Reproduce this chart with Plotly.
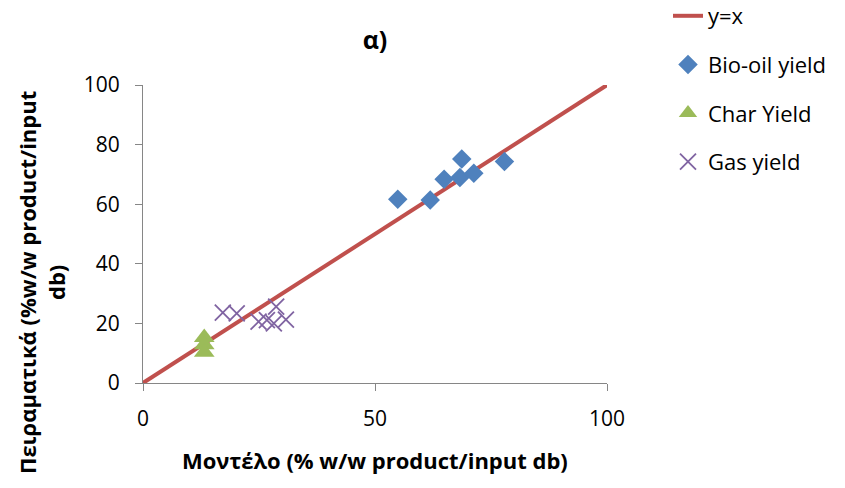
import plotly.graph_objects as go

# Data
line_x = [0, 100]
line_y = [0, 100]

bio_x = [54.9, 61.9, 64.9, 68.7, 68.3, 71.3, 77.9]
bio_y = [61.7, 61.4, 68.4, 75.2, 69.0, 70.4, 74.3]

char_x = [13.2, 13.2, 13.2]
char_y = [15.3, 12.8, 10.3]

gas_x = [17.2, 20.2, 24.9, 26.7, 28.7, 28.2, 30.8]
gas_y = [23.6, 23.4, 20.6, 21.1, 25.6, 20.0, 21.3]

x_ticks = [0, 50, 100]
y_ticks = [0, 20, 40, 60, 80, 100]

FONT = "Open Sans"

fig = go.Figure()
fig.add_trace(go.Scatter(x=line_x, y=line_y, mode="lines", name="y=x",
                         line=dict(color="#C0504D", width=4), legendgroup="a"))
fig.add_trace(go.Scatter(x=bio_x, y=bio_y, mode="markers", name="Bio-oil yield",
                         marker=dict(symbol="diamond", size=15, color="#4F81BD"), legendgroup="b"))
fig.add_trace(go.Scatter(x=char_x, y=char_y, mode="markers", name="Char Yield",
                         marker=dict(symbol="triangle-up", size=18, color="#9BBB59"), legendgroup="c"))
fig.add_trace(go.Scatter(x=gas_x, y=gas_y, mode="markers", name="Gas yield",
                         marker=dict(symbol="x-thin", size=16, color="#8064A2",
                                     line=dict(color="#8064A2", width=1.8)), legendgroup="d"))

fig.update_layout(
    width=845, height=488,
    margin=dict(l=143, r=238, t=85, b=105, autoexpand=False),
    paper_bgcolor="white", plot_bgcolor="white",
    font=dict(family=FONT, size=21, color="black"),
    title=dict(text="<b>α)</b>", x=375 / 845, xanchor="center", y=1 - 40 / 488, yanchor="middle",
               font=dict(family=FONT, size=25, color="black")),
    showlegend=True,
    legend=dict(x=(668 - 143) / 464, xanchor="left", y=(383 + 5) / 298, yanchor="top",
                font=dict(family=FONT, size=22, color="black"), tracegroupgap=17,
                bgcolor="rgba(0,0,0,0)"),
    xaxis=dict(range=[0, 100], tickvals=x_ticks, showgrid=False, zeroline=False,
               showline=True, linecolor="#868686", linewidth=1,
               ticks="outside", ticklen=7, tickcolor="#868686", ticklabelstandoff=10),
    yaxis=dict(range=[0, 100], tickvals=y_ticks, showgrid=False, zeroline=False,
               showline=True, linecolor="#868686", linewidth=1,
               ticks="outside", ticklen=7, tickcolor="#868686", ticklabelstandoff=11),
    annotations=[
        dict(text="<b>Μοντέλο (% w/w product/input db)</b>",
             xref="paper", yref="paper", x=0.5, y=(383 - 460) / 298,
             xanchor="center", yanchor="middle", showarrow=False,
             font=dict(family=FONT, size=22, color="black")),
        dict(text="<b>Πειραματικά (%w/w product/input<br>db)</b>",
             xref="paper", yref="paper", x=(41 - 143) / 464, y=(383 - 283) / 298,
             xanchor="center", yanchor="middle", textangle=-90, showarrow=False,
             font=dict(family=FONT, size=22, color="black")),
    ],
)

fig.write_html("out.html")
